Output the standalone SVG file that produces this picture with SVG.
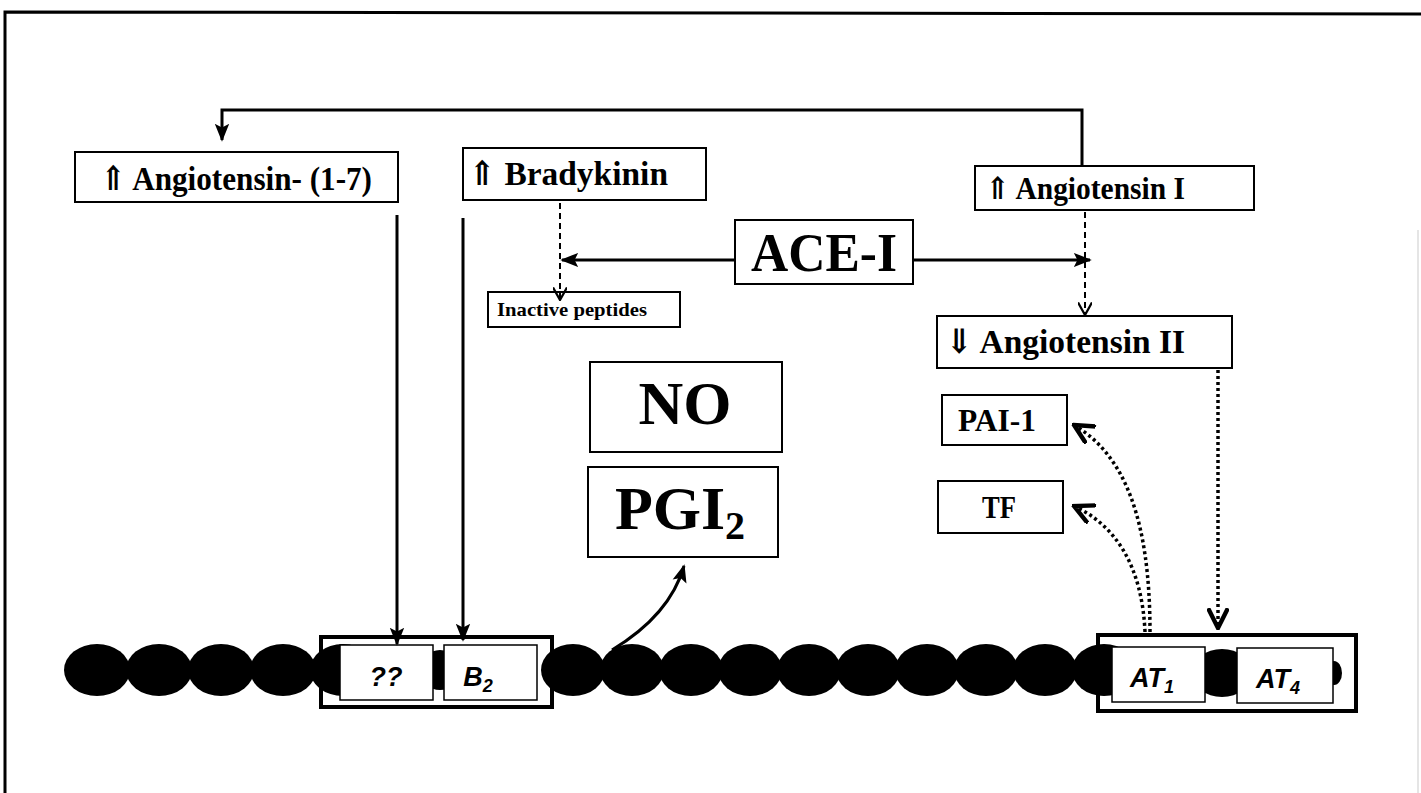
<svg xmlns="http://www.w3.org/2000/svg" width="1421" height="793" viewBox="0 0 1421 793">
<style>
.box{fill:#fff;stroke:#000;stroke-width:2}
.t{font-family:"Liberation Serif","DejaVu Serif",serif;font-weight:bold;fill:#000}
.r{font-family:"Liberation Sans",Arial,sans-serif;font-weight:bold;font-style:italic;fill:#000}
.solid{fill:none;stroke:#000;stroke-width:3}
.dash{fill:none;stroke:#000;stroke-width:2;stroke-dasharray:6,4}
.dot{fill:none;stroke:#000;stroke-width:3.5;stroke-dasharray:3,3}
.bead{fill:#000}
</style>
<defs>
<marker id="fillb" viewBox="0 0 10 10" refX="9" refY="5" markerWidth="18" markerHeight="18" orient="auto" markerUnits="userSpaceOnUse">
<path d="M0,1 L10,5 L0,9 L2,5 z" fill="#000"/>
</marker>
<marker id="vee" viewBox="0 0 10 10" refX="9" refY="5" markerWidth="14" markerHeight="14" orient="auto" markerUnits="userSpaceOnUse">
<path d="M0,0 L9,5 L0,10" fill="none" stroke="#000" stroke-width="1.6"/>
</marker>
<marker id="veeb" viewBox="0 0 10 10" refX="9" refY="5" markerWidth="22" markerHeight="22" orient="auto" markerUnits="userSpaceOnUse">
<path d="M0,0.5 L9,5 L0,9.5" fill="none" stroke="#000" stroke-width="2"/>
</marker>
</defs>
<rect width="1421" height="793" fill="#fff"/>
<path d="M5,793 V12 L1421,14" fill="none" stroke="#000" stroke-width="3"/>
<line x1="1418" y1="230" x2="1418" y2="793" stroke="#ddd" stroke-width="1.5"/>

<g id="membrane">
<ellipse class="bead" cx="97" cy="670" rx="33" ry="26"/>
<ellipse class="bead" cx="159" cy="670" rx="33" ry="26"/>
<ellipse class="bead" cx="221" cy="670" rx="33" ry="26"/>
<ellipse class="bead" cx="283" cy="670" rx="33" ry="26"/>
<ellipse class="bead" cx="343" cy="670" rx="33" ry="26"/>
<ellipse class="bead" cx="440" cy="670" rx="20" ry="20"/>
<ellipse class="bead" cx="573" cy="670" rx="32" ry="26"/>
<ellipse class="bead" cx="632" cy="670" rx="32" ry="26"/>
<ellipse class="bead" cx="691" cy="670" rx="32" ry="26"/>
<ellipse class="bead" cx="750" cy="670" rx="32" ry="26"/>
<ellipse class="bead" cx="809" cy="670" rx="32" ry="26"/>
<ellipse class="bead" cx="868" cy="670" rx="32" ry="26"/>
<ellipse class="bead" cx="927" cy="670" rx="32" ry="26"/>
<ellipse class="bead" cx="986" cy="670" rx="32" ry="26"/>
<ellipse class="bead" cx="1045" cy="670" rx="32" ry="26"/>
<ellipse class="bead" cx="1104" cy="670" rx="32" ry="26"/>
<ellipse class="bead" cx="1222" cy="673" rx="30" ry="24"/>
<ellipse class="bead" cx="1334" cy="673" rx="8" ry="12"/>
</g>

<g id="receptor-left">
<rect x="321" y="637" width="231" height="70" fill="none" stroke="#000" stroke-width="4"/>
<rect x="340" y="645" width="93" height="55" fill="#fff" stroke="#000" stroke-width="1.5"/>
<text class="r" x="386" y="686" font-size="27" text-anchor="middle">??</text>
<rect x="444" y="645" width="93" height="55" fill="#fff" stroke="#000" stroke-width="1.5"/>
<text class="r" x="478" y="686" font-size="27" text-anchor="middle">B<tspan font-size="18" dy="6">2</tspan></text>
</g>

<g id="receptor-right">
<rect x="1098" y="635" width="258" height="76" fill="none" stroke="#000" stroke-width="4"/>
<rect x="1112" y="647" width="93" height="55" fill="#fff" stroke="#000" stroke-width="1.5"/>
<text class="r" x="1152" y="687" font-size="27" text-anchor="middle">AT<tspan font-size="18" dy="6">1</tspan></text>
<rect x="1237" y="648" width="96" height="55" fill="#fff" stroke="#000" stroke-width="1.5"/>
<text class="r" x="1278" y="688" font-size="27" text-anchor="middle">AT<tspan font-size="18" dy="6">4</tspan></text>
</g>

<g id="ang17">
<rect class="box" x="75" y="152" width="323" height="50"/>
<text class="t" x="100" y="190" font-size="34" textLength="272" lengthAdjust="spacingAndGlyphs">⇑ Angiotensin- (1-7)</text>
</g>
<g id="bradykinin">
<rect class="box" x="463" y="148" width="243" height="52"/>
<text class="t" x="468" y="185" font-size="34" textLength="200" lengthAdjust="spacingAndGlyphs">⇑ Bradykinin</text>
</g>
<g id="ang1">
<rect class="box" x="975" y="166" width="279" height="44"/>
<text class="t" x="985" y="199" font-size="31" textLength="200" lengthAdjust="spacingAndGlyphs">⇑ Angiotensin I</text>
</g>
<g id="acei">
<rect class="box" x="735" y="220" width="178" height="64"/>
<text class="t" x="824" y="271" font-size="54" text-anchor="middle" textLength="146" lengthAdjust="spacingAndGlyphs">ACE-I</text>
</g>
<g id="inactive">
<rect class="box" x="488" y="292" width="192" height="35" stroke-width="1.5"/>
<text class="t" x="497" y="316" font-size="19" textLength="150" lengthAdjust="spacingAndGlyphs">Inactive peptides</text>
</g>
<g id="ang2">
<rect class="box" x="937" y="316" width="295" height="52"/>
<text class="t" x="945" y="353" font-size="34" textLength="240" lengthAdjust="spacingAndGlyphs">⇓ Angiotensin II</text>
</g>
<g id="no">
<rect class="box" x="590" y="362" width="192" height="90"/>
<text class="t" x="685" y="424" font-size="62" text-anchor="middle">NO</text>
</g>
<g id="pgi2">
<rect class="box" x="588" y="467" width="190" height="90"/>
<text class="t" x="680" y="529" font-size="62" text-anchor="middle">PGI<tspan font-size="40" dy="10">2</tspan></text>
</g>
<g id="pai1">
<rect class="box" x="942" y="395" width="125" height="50"/>
<text class="t" x="958" y="431" font-size="31" textLength="78" lengthAdjust="spacingAndGlyphs">PAI-1</text>
</g>
<g id="tf">
<rect class="box" x="938" y="481" width="125" height="52"/>
<text class="t" x="999" y="518" font-size="31" text-anchor="middle" textLength="34" lengthAdjust="spacingAndGlyphs">TF</text>
</g>

<g id="connectors">
<path class="solid" d="M1082,166 V110 H222 V140" marker-end="url(#fillb)"/>
<path class="solid" d="M397,215 V644" marker-end="url(#fillb)"/>
<path class="solid" d="M463,218 V640" marker-end="url(#fillb)"/>
<path class="solid" d="M735,260 H562" marker-end="url(#fillb)"/>
<path class="solid" d="M913,260 H1090" marker-end="url(#fillb)"/>
<path class="dash" d="M560,203 V300" marker-end="url(#vee)"/>
<path class="dash" d="M1085,212 V315" marker-end="url(#vee)"/>
<path class="dot" d="M1218,370 V628" marker-end="url(#veeb)"/>
<path class="dot" d="M1150,632 C1150,520 1125,455 1074,425" marker-end="url(#veeb)"/>
<path class="dot" d="M1145,632 C1142,565 1115,525 1074,506" marker-end="url(#veeb)"/>
<path class="solid" d="M612,650 Q670,615 684,566" marker-end="url(#fillb)"/>
</g>
</svg>
